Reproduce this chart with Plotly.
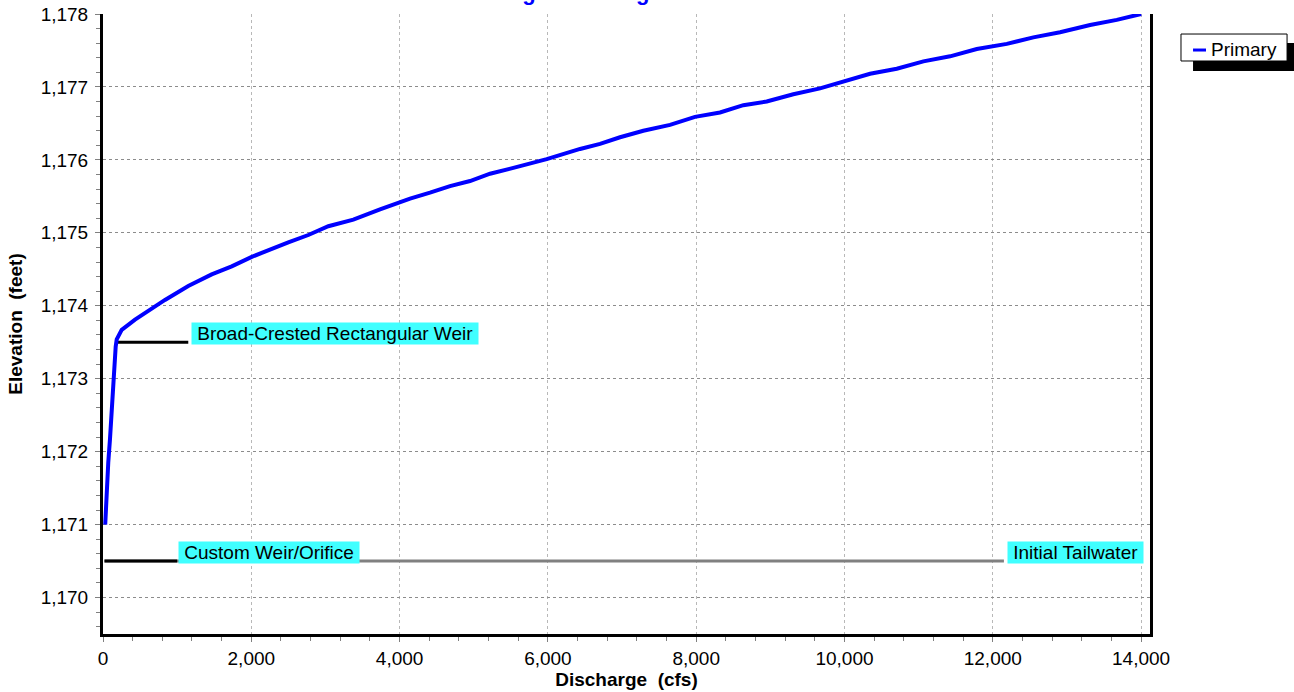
import plotly.graph_objects as go

# ---- data ----
discharge_cfs = [30, 50, 71, 94, 117, 139, 148, 171, 185, 252, 432, 701, 836,
                 1150, 1466, 1736, 2006, 2499, 2769, 3039, 3376, 3736, 4141, 4410,
                 4680, 4950, 5220, 5534, 5804, 5984, 6434, 6703, 6973, 7287, 7647,
                 7984, 8321, 8636, 8951, 9310, 9670, 9985, 10345, 10705, 11064,
                 11424, 11784, 12189, 12547, 12907, 13312, 13672, 14000]
elevation_ft = [1171.00, 1171.48, 1171.85, 1172.17, 1172.58, 1172.81, 1173.17,
                1173.44, 1173.54, 1173.67, 1173.81, 1173.99, 1174.08,
                1174.27, 1174.43, 1174.54, 1174.67, 1174.87, 1174.97, 1175.09,
                1175.18, 1175.32, 1175.47, 1175.55, 1175.64, 1175.71, 1175.81,
                1175.89, 1175.96, 1176.01, 1176.15, 1176.22, 1176.31, 1176.40,
                1176.48, 1176.59, 1176.65, 1176.75, 1176.80, 1176.90, 1176.98,
                1177.07, 1177.18, 1177.25, 1177.35, 1177.42, 1177.52, 1177.59,
                1177.68, 1177.75, 1177.85, 1177.92, 1178.00]

broad_weir_q = [185, 1150]
broad_weir_elev = [1173.5, 1173.5]
custom_weir_q = [20, 1000]
custom_weir_elev = [1170.5, 1170.5]
tailwater_q = [20, 12150]
tailwater_elev = [1170.5, 1170.5]

label_texts = ["Broad-Crested Rectangular Weir", "Custom Weir/Orifice", "Initial Tailwater"]
label_q = [1187, 1007, 12188]
label_elev = [1173.5, 1170.5, 1170.5]

x_tickvals = [0, 2000, 4000, 6000, 8000, 10000, 12000, 14000]
x_ticktext = ["0", "2,000", "4,000", "6,000", "8,000", "10,000", "12,000", "14,000"]
y_tickvals = [1170, 1171, 1172, 1173, 1174, 1175, 1176, 1177, 1178]
y_ticktext = ["1,170", "1,171", "1,172", "1,173", "1,174", "1,175", "1,176", "1,177", "1,178"]

series_name = "Primary"
chart_title = "Stage-Discharge"

FONT = "Arial, Liberation Sans, sans-serif"
FS = 19

fig = go.Figure()
fig.add_trace(go.Scatter(x=tailwater_q, y=tailwater_elev, mode="lines",
                         line=dict(color="#808080", width=3), showlegend=False, hoverinfo="skip"))
fig.add_trace(go.Scatter(x=custom_weir_q, y=custom_weir_elev, mode="lines",
                         line=dict(color="#000000", width=3), showlegend=False, hoverinfo="skip"))
fig.add_trace(go.Scatter(x=broad_weir_q, y=broad_weir_elev, mode="lines",
                         line=dict(color="#000000", width=3), showlegend=False, hoverinfo="skip"))
fig.add_trace(go.Scatter(x=discharge_cfs, y=elevation_ft, mode="lines", name=series_name,
                         line=dict(color="#0000FF", width=4), showlegend=False))

for t, qx, ey in zip(label_texts, label_q, label_elev):
    fig.add_annotation(x=qx, y=ey, xref="x", yref="y", text="\u00a0" + t + "\u00a0",
                       showarrow=False, xanchor="left", yanchor="bottom", yshift=-3,
                       bgcolor="#40FFFF", borderpad=0,
                       font=dict(family=FONT, size=FS, color="#000000"))

# manual legend (with drop shadow)
fig.add_shape(type="rect", xref="paper", yref="paper", x0=1.0411, x1=1.16, y0=0.9081, y1=0.9532,
              fillcolor="#000000", line=dict(width=0), layer="above")
fig.add_shape(type="rect", xref="paper", yref="paper", x0=1.0296, x1=1.1309, y0=0.9242, y1=0.9677,
              fillcolor="#FFFFFF", line=dict(color="#000000", width=1), layer="above")
fig.add_shape(type="line", xref="paper", yref="paper", x0=1.0411, x1=1.0535, y0=0.9419, y1=0.9419,
              line=dict(color="#0000FF", width=3), layer="above")
fig.add_annotation(x=1.0563, y=0.9435, xref="paper", yref="paper", text=series_name,
                   showarrow=False, xanchor="left", yanchor="middle",
                   font=dict(family=FONT, size=FS, color="#000000"))

# title (cut off at the top of the page as in the reference)
fig.add_annotation(x=(486 - 103) / 1047, y=(634 - 7) / 620, xref="paper", yref="paper",
                   text=chart_title, showarrow=False, xanchor="left", yanchor="bottom",
                   font=dict(family=FONT, size=22, color="#0000FF", weight="bold"))

fig.update_layout(
    width=1294, height=692,
    margin=dict(l=103, r=144, t=14, b=58, autoexpand=False),
    paper_bgcolor="#FFFFFF", plot_bgcolor="#FFFFFF",
    font=dict(family=FONT, size=FS, color="#000000"),
    showlegend=False,
)
fig.update_xaxes(
    range=[0, 14120], tickvals=x_tickvals, ticktext=x_ticktext, automargin=False,
    showline=True, linecolor="#000000", linewidth=3,
    ticks="outside", ticklen=5, tickcolor="#808080", tickwidth=1,
    ticklabelstandoff=0,
    showgrid=True, gridcolor="#B8B8B8", griddash="dot", gridwidth=1,
    zeroline=False,
    minor=dict(dtick=400, tick0=0, ticks="outside", ticklen=4, tickcolor="#808080", showgrid=False),
    tickfont=dict(family=FONT, size=FS, color="#000000"),
    title=dict(text="Discharge\u00a0 (cfs)", standoff=4,
               font=dict(family=FONT, size=FS, color="#000000", weight="bold")),
)
fig.update_yaxes(
    range=[1169.5, 1178], tickvals=y_tickvals, ticktext=y_ticktext, automargin=False,
    showline=True, linecolor="#000000", linewidth=3, mirror=True,
    ticks="outside", ticklen=5, tickcolor="#808080", tickwidth=1,
    ticklabelstandoff=3,
    showgrid=True, gridcolor="#8C8C8C", griddash="dot", gridwidth=1,
    zeroline=False,
    minor=dict(dtick=0.2, tick0=1170, ticks="outside", ticklen=4, tickcolor="#808080", showgrid=False),
    tickfont=dict(family=FONT, size=FS, color="#000000"),
    title=dict(text="Elevation\u00a0 (feet)", standoff=14,
               font=dict(family=FONT, size=FS, color="#000000", weight="bold")),
)

post = ("document.body.style.margin='0';"
        "var gd=document.getElementById('{plot_id}');"
        "gd.style.position='absolute';gd.style.left='0px';gd.style.top='0px';")
fig.write_html("out.html", post_script=post, config={"displayModeBar": False})
